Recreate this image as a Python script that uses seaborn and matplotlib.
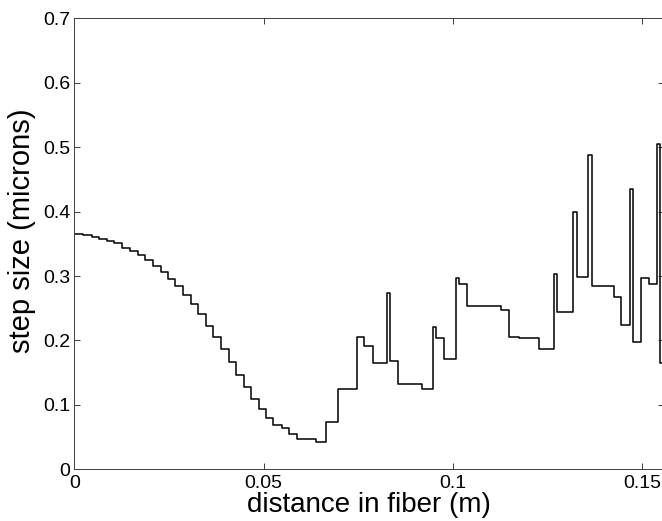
import matplotlib
matplotlib.use("Agg")
import matplotlib.pyplot as plt
import seaborn as sns
import pandas as pd
import numpy as np

# step edges (m) and step size values (microns), drawn as 'steps-post'
distance = [0.0, 0.0024, 0.0046, 0.0066, 0.0086, 0.0106, 0.0127, 0.0147, 0.0167,
            0.0188, 0.0207, 0.0228, 0.0247, 0.0267, 0.0288, 0.0308, 0.0328, 0.0348,
            0.0367, 0.0387, 0.0408, 0.0427, 0.0447, 0.0467, 0.0487, 0.0507, 0.0526,
            0.0548, 0.0568, 0.0588, 0.0637, 0.0666, 0.0697, 0.0747, 0.0766, 0.0788,
            0.0827, 0.0835, 0.0856, 0.0917, 0.0946, 0.0954, 0.0976, 0.1007, 0.1015,
            0.1036, 0.1126, 0.1147, 0.1174, 0.1227, 0.1267, 0.1274, 0.1317, 0.1327,
            0.1356, 0.1366, 0.1425, 0.1445, 0.1467, 0.1476, 0.1496, 0.1517, 0.1538,
            0.1547, 0.1560]
step_size = [0.365, 0.364, 0.361, 0.358, 0.354, 0.351, 0.344, 0.339, 0.333,
             0.325, 0.316, 0.306, 0.295, 0.285, 0.271, 0.257, 0.241, 0.223,
             0.205, 0.186, 0.167, 0.147, 0.127, 0.109, 0.093, 0.079, 0.069,
             0.064, 0.055, 0.047, 0.043, 0.073, 0.125, 0.206, 0.192, 0.1655,
             0.273, 0.168, 0.132, 0.125, 0.221, 0.204, 0.171, 0.2965, 0.287,
             0.2535, 0.248, 0.206, 0.204, 0.186, 0.303, 0.244, 0.400, 0.298,
             0.488, 0.2845, 0.268, 0.224, 0.435, 0.198, 0.2965, 0.287, 0.505,
             0.165, 0.165]

x_ticks = [0, 0.05, 0.1, 0.15]
x_tick_labels = ["0", "0.05", "0.1", "0.15"]
y_ticks = [0, 0.1, 0.2, 0.3, 0.4, 0.5, 0.6, 0.7]
y_tick_labels = ["0", "0.1", "0.2", "0.3", "0.4", "0.5", "0.6", "0.7"]

sns.set_theme(style="ticks")
plt.rcParams["font.family"] = ["Liberation Sans", "DejaVu Sans"]

df = pd.DataFrame({"distance": distance, "step": step_size})

fig = plt.figure(figsize=(6.62, 5.21), dpi=100)
ax = fig.add_axes([0.1122, 0.0992, 0.8901, 0.8657])

sns.lineplot(data=df, x="distance", y="step", ax=ax, color="black",
             linewidth=1.1, drawstyle="steps-post", sort=False,
             estimator=None)

ax.set_xlim(0, 0.1556)
ax.set_ylim(0, 0.7)
ax.set_xticks(x_ticks)
ax.set_xticklabels(x_tick_labels)
ax.set_yticks(y_ticks)
ax.set_yticklabels(y_tick_labels)

for s in ax.spines.values():
    s.set_visible(True)
    s.set_color("#404040")
    s.set_linewidth(0.7)

ax.tick_params(direction="in", length=4.5, width=0.7, color="#404040",
               top=True, right=True, labelsize=14, labelcolor="black")
ax.tick_params(axis="x", pad=4)
ax.tick_params(axis="y", pad=3)

ax.set_xlabel("distance in fiber (m)", fontsize=20, labelpad=0, color="black")
ax.set_ylabel("step size (microns)", fontsize=21, color="black")
ax.yaxis.set_label_coords(-0.065, 0.53)

fig.savefig("out.png", dpi=100)
